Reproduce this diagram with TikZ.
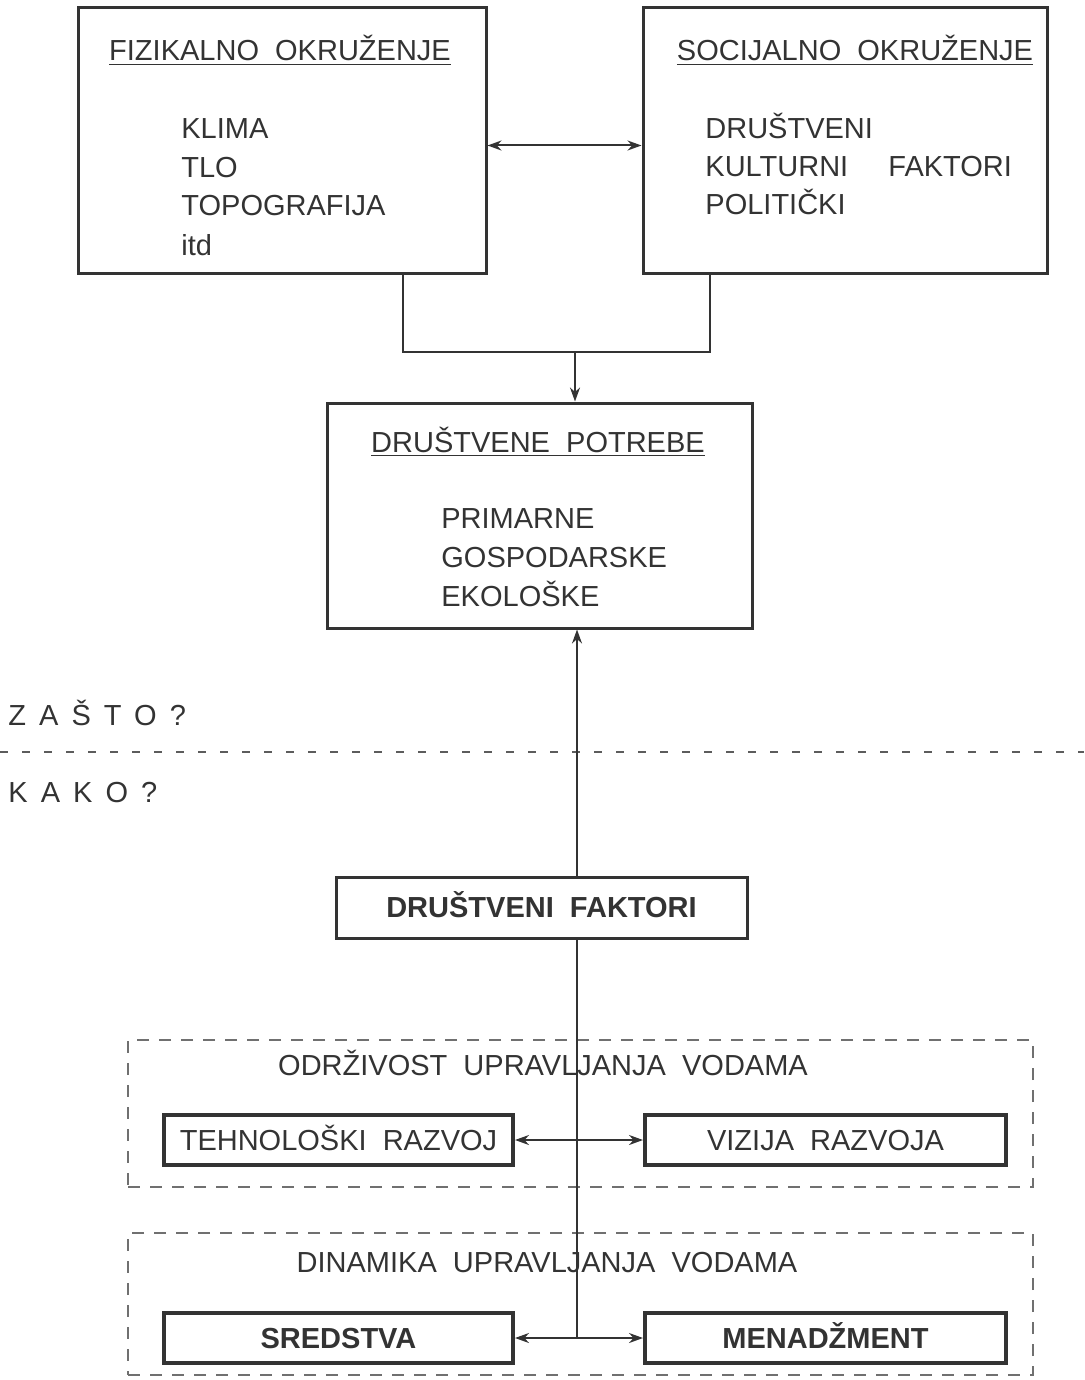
\documentclass[tikz,border=0pt]{standalone}
\usepackage{fontspec}
\setmainfont{Liberation Sans}
\usetikzlibrary{arrows.meta,calc}
\definecolor{ink}{gray}{0.2}
\begin{document}
\begin{tikzpicture}[x=0.5pt,y=-0.5pt,
  every node/.style={text=ink,font=\fontsize{14.5}{17}\selectfont,inner sep=0pt},
  bigbox/.style={draw=ink,line width=1.5pt,fill=none},
  smallbox/.style={draw=ink,line width=2pt,minimum height=25pt,text height=10.4pt,text depth=0pt},
  zone/.style={draw=ink!70,line width=0.8pt,dash pattern=on 6pt off 5pt},
  item/.style={anchor=base west},
  title/.style={anchor=base},
  conn/.style={draw=ink,line width=1pt},
  tip/.style={-{Stealth[length=7pt,width=5pt]}},
  tips/.style={{Stealth[length=7pt,width=5pt]}-{Stealth[length=7pt,width=5pt]}}]
\useasboundingbox (0,0) rectangle (1084,1380);

% upper boxes
\node[bigbox,minimum width=204pt,minimum height=132.5pt] (fiz) at (282,140.5) {};
\node[bigbox,minimum width=202pt,minimum height=132.5pt] (soc) at (845,140.5) {};
\node[title] (fizt) at (280,61) {\underline{FIZIKALNO\ \ OKRUŽENJE}};
\node[item] (f1) at (181,139) {KLIMA};
\node[item] (f2) at (181,178) {TLO};
\node[item] (f3) at (181,216) {TOPOGRAFIJA};
\node[item] (f4) at (181,256) {itd};
\node[title] (soct) at (855,61) {\underline{SOCIJALNO\ \ OKRUŽENJE}};
\node[item] (s1) at (705,139) {DRUŠTVENI};
\node[item] (s2) at (705,177) {KULTURNI};
\node[item] (s2b) at (888,177) {FAKTORI};
\node[item] (s3) at (705,215) {POLITIČKI};

% social needs
\node[bigbox,minimum width=212.5pt,minimum height=112.5pt] (dp) at (539.5,515.5) {};
\node[title] (dpt) at (538,452) {\underline{DRUŠTVENE\ \ POTREBE}};
\node[item] (d1) at (441,528) {PRIMARNE};
\node[item] (d2) at (441,567) {GOSPODARSKE};
\node[item] (d3) at (441,606) {EKOLOŠKE};

% why / how
\node[item] (why) at (8,725) {\addfontfeature{LetterSpace=45}ZAŠTO?};
\node[item] (how) at (8,802) {\addfontfeature{LetterSpace=45}KAKO?};
\coordinate (dl) at (0,752);
\coordinate (dr) at (1084,752);
\draw[draw=ink!80,line width=1pt,dash pattern=on 4pt off 7pt] (dl) -- (dr);

% social factors
\node[bigbox,minimum width=205.5pt,minimum height=30.5pt,text height=10.4pt,text depth=0pt,font=\fontsize{14.5}{17}\selectfont\bfseries] (df) at (541.5,907.5) {DRUŠTVENI\ \ FAKTORI};

% sustainability zone
\node[zone,minimum width=452.5pt,minimum height=73.5pt] (z1) at (580.5,1113.5) {};
\node[title] (z1t) at (543,1075) {ODRŽIVOST\ \ UPRAVLJANJA\ \ VODAMA};
\node[smallbox,minimum width=174.5pt] (teh) at (338.5,1140) {TEHNOLOŠKI\ \ RAZVOJ};
\node[smallbox,minimum width=180.5pt] (viz) at (825.5,1140) {VIZIJA\ \ RAZVOJA};

% dynamics zone
\node[zone,minimum width=452.5pt,minimum height=71pt] (z2) at (580.5,1304) {};
\node[title] (z2t) at (547,1272) {DINAMIKA\ \ UPRAVLJANJA\ \ VODAMA};
\node[smallbox,minimum width=174.5pt,font=\fontsize{14.5}{17}\selectfont\bfseries] (sre) at (338.5,1338) {SREDSTVA};
\node[smallbox,minimum width=180.5pt,font=\fontsize{14.5}{17}\selectfont\bfseries] (men) at (825.5,1338) {MENADŽMENT};

% connectors
\coordinate (j0) at (575,352);
\coordinate (axis) at (577,0);
\coordinate (j1) at (577,1140);
\coordinate (j2) at (577,1338);
\draw[conn,tips] ($(fiz.east)+(0,5)$) -- ($(soc.west)+(0,5)$);
\draw[conn] ($(fiz.south)+(121,0)$) |- (j0) -| ($(soc.south)+(-135,0)$);
\draw[conn,tip] (j0) -- (j0 |- dp.north);
\draw[conn,tip] (df.north -| axis) -- (dp.south -| axis);
\draw[conn] (df.south -| axis) -- (j2);
\draw[conn,tip] (j1) -- (teh.east);
\draw[conn,tip] (j1) -- (viz.west);
\draw[conn,tip] (j2) -- (sre.east);
\draw[conn,tip] (j2) -- (men.west);
\end{tikzpicture}
\end{document}
